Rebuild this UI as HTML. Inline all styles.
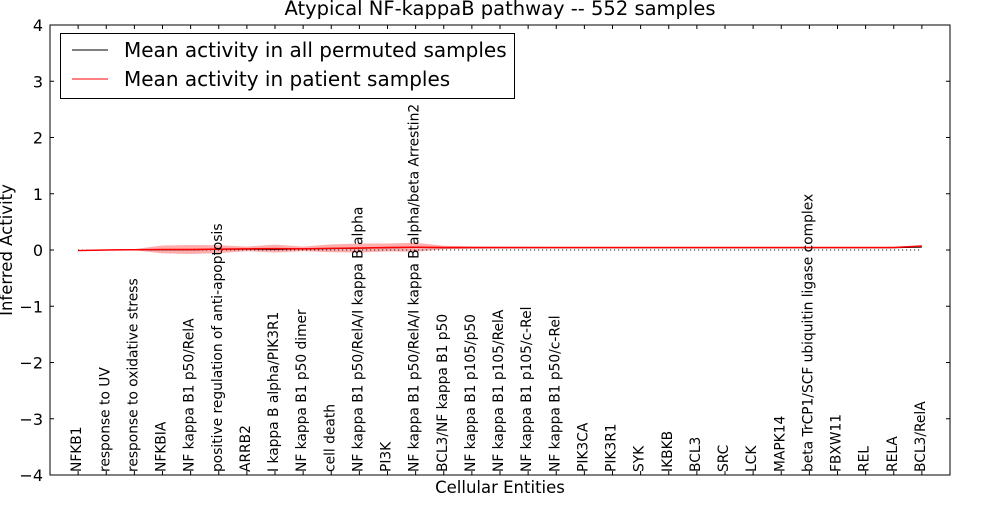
<!DOCTYPE html>
<html><head><meta charset="utf-8"><style>
body{margin:0;background:#fff}
svg{font-family:"DejaVu Sans","Liberation Sans",sans-serif}
</style></head><body>
<svg id="c" width="1000" height="500" xmlns="http://www.w3.org/2000/svg"></svg>
<script>
const categories=["NFKB1","response to UV","response to oxidative stress","NFKBIA","NF kappa B1 p50/RelA","positive regulation of anti-apoptosis","ARRB2","I kappa B alpha/PIK3R1","NF kappa B1 p50 dimer","cell death","NF kappa B1 p50/RelA/I kappa B alpha","PI3K","NF kappa B1 p50/RelA/I kappa B alpha/beta Arrestin2","BCL3/NF kappa B1 p50","NF kappa B1 p105/p50","NF kappa B1 p105/RelA","NF kappa B1 p105/c-Rel","NF kappa B1 p50/c-Rel","PIK3CA","PIK3R1","SYK","IKBKB","BCL3","SRC","LCK","MAPK14","beta TrCP1/SCF ubiquitin ligase complex","FBXW11","REL","RELA","BCL3/RelA"];
const patientMean=[-0.01,0,0.005,0.01,0.01,0.015,0.02,0.025,0.02,0.03,0.035,0.045,0.05,0.045,0.045,0.045,0.045,0.045,0.045,0.045,0.045,0.045,0.045,0.045,0.045,0.045,0.045,0.045,0.045,0.045,0.07];
const bandHalf=[0,0.005,0.01,0.07,0.08,0.07,0.04,0.07,0.04,0.07,0.08,0.07,0.08,0.03,0.02,0.015,0.01,0.008,0.006,0.005,0.005,0.005,0.005,0.005,0.005,0.005,0.005,0.005,0.005,0.01,0.02];
const permMean=[-0.01,0,0.005,0.005,0.005,0.01,0.015,0.01,0.02,0.025,0.03,0.04,0.045,0.04,0.04,0.04,0.04,0.04,0.04,0.04,0.04,0.04,0.04,0.04,0.04,0.04,0.04,0.04,0.04,0.04,0.05];
const yTicks=[-4,-3,-2,-1,0,1,2,3,4];
const NS="http://www.w3.org/2000/svg",svg=document.getElementById('c');
const L=50,R=950,T=25,B=475;
const xs=i=>L+(i+1)*(R-L)/32, ys=v=>T+(4-v)*(B-T)/8;
function el(t,a,p){const e=document.createElementNS(NS,t);for(const k in a)e.setAttribute(k,a[k]);(p||svg).appendChild(e);return e;}
let d="M"+categories.map((c,i)=>xs(i)+","+ys(patientMean[i]+bandHalf[i])).join("L");
for(let i=categories.length-1;i>=0;i--)d+="L"+xs(i)+","+ys(patientMean[i]-bandHalf[i]);
const band=el('path',{d:d+"Z",fill:"#f33","fill-opacity":0.4,stroke:"none"});


const zl=el('line',{x1:xs(0),x2:xs(30),y1:ys(0),y2:ys(0),stroke:"#000","stroke-dasharray":"1,3"});


const pl=el('path',{d:"M"+permMean.map((v,i)=>xs(i)+","+ys(v)).join("L"),fill:"none",stroke:"#000","stroke-width":1});


const rl=el('path',{d:"M"+patientMean.map((v,i)=>xs(i)+","+ys(v)).join("L"),fill:"none",stroke:"red","stroke-width":1.5});


const ax=el('rect',{x:L,y:T,width:R-L,height:B-T,fill:"none",stroke:"#000"});


yTicks.forEach(v=>{
  el('line',{x1:L,x2:L+4,y1:ys(v),y2:ys(v),stroke:"#000"});
  el('line',{x1:R-4,x2:R,y1:ys(v),y2:ys(v),stroke:"#000"});
  const t=el('text',{x:L-7,y:ys(v)+6,"text-anchor":"end","font-size":16});
  t.textContent=(v<0?"\u2212"+(-v):v);
  
  
});
categories.forEach((c,i)=>{
  el('line',{x1:xs(i),x2:xs(i),y1:B,y2:B-4,stroke:"#000"});
  el('line',{x1:xs(i),x2:xs(i),y1:T,y2:T+4,stroke:"#000"});
  const t=el('text',{transform:`translate(${xs(i)+3},${B-3}) rotate(-90)`,"font-size":13.8});
  t.textContent=c;
  
  
});
const title=el('text',{x:500,y:15,"text-anchor":"middle","font-size":19.5});title.textContent="Atypical NF-kappaB pathway -- 552 samples";


const xt=el('text',{x:500,y:493,"text-anchor":"middle","font-size":16.5});xt.textContent="Cellular Entities";


const yt=el('text',{transform:"translate(12,250) rotate(-90)","text-anchor":"middle","font-size":16.5});yt.textContent="Inferred Activity";


const lg=el('g',{});


el('rect',{x:60.5,y:33.5,width:454,height:65,fill:"#fff",stroke:"#000"},lg);
el('line',{x1:72,x2:108,y1:50,y2:50,stroke:"#000"},lg);
el('line',{x1:72,x2:108,y1:79,y2:79,stroke:"red"},lg);
const l1=el('text',{x:124,y:57,"font-size":20},lg);l1.textContent="Mean activity in all permuted samples";


const l2=el('text',{x:124,y:86,"font-size":20},lg);l2.textContent="Mean activity in patient samples";


</script>
</body></html>
